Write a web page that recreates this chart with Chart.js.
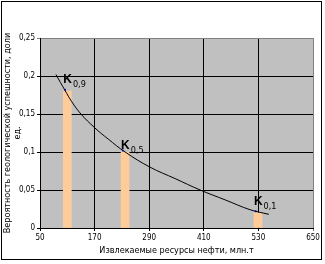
<!DOCTYPE html>
<html>
<head>
<meta charset="utf-8">
<script src="https://cdn.jsdelivr.net/npm/chart.js@4.4.1/dist/chart.umd.min.js"></script>
<style>
  html, body { margin: 0; padding: 0; background: #fff; }
  #wrap { width: 325px; height: 264px; }
</style>
</head>
<body>
<div id="wrap"><canvas id="chart" width="325" height="264"></canvas></div>
<script>
// категории (столбики) и их значения
const barX = [110, 237, 529];
const barY = [0.18, 0.10, 0.02];
const barLabels = ['0,9', '0,5', '0,1'];

// кривая
const curveX = [85, 105, 120, 140, 170, 200, 237, 292, 347, 402, 457, 512, 553];
const curveY = [0.202, 0.181, 0.166, 0.150, 0.132, 0.117, 0.100, 0.080, 0.065, 0.050, 0.037, 0.024, 0.018];

const xTicks = [50, 170, 290, 410, 530, 650];
const yTicks = [0, 0.05, 0.1, 0.15, 0.2, 0.25];

const FONT = "'Liberation Sans Narrow', 'Arial Narrow', 'DejaVu Sans Condensed', sans-serif";

const fmt = v => String(Math.round(v * 100) / 100).replace('.', ',');

// фон области построения и рамка вокруг
const frame = {
  id: 'frame',
  beforeDraw(chart) {
    const { ctx, chartArea: a } = chart;
    ctx.save();
    ctx.fillStyle = '#fff';
    ctx.fillRect(0, 0, chart.width, chart.height);
    ctx.fillStyle = '#c0c0c0';
    ctx.fillRect(a.left, a.top, a.right - a.left, a.bottom - a.top);
    ctx.strokeStyle = '#000';
    ctx.lineWidth = 1;
    ctx.strokeRect(1.5, 1.5, 320, 258);
    ctx.restore();
  }
};

// подписи K с индексами над столбиками
const kLabels = {
  id: 'kLabels',
  afterDraw(chart) {
    const { ctx, scales } = chart;
    const dy = [8, 3, 8];
    ctx.save();
    ctx.fillStyle = '#000';
    ctx.textBaseline = 'alphabetic';
    barX.forEach((x, i) => {
      const px = scales.x.getPixelForValue(x) - 4;
      const py = scales.y.getPixelForValue(barY[i]) - dy[i];
      ctx.font = "bold 12px 'Liberation Sans Narrow', 'Arial Narrow', sans-serif";
      ctx.fillText('K', px, py);
      const w = ctx.measureText('K').width;
      ctx.font = "9px " + FONT;
      ctx.fillText(barLabels[i], px + w + 1, py + 4);
    });
    ctx.restore();
  }
};

const ctx = document.getElementById('chart');
new Chart(ctx, {
  type: 'bar',
  data: {
    datasets: [
      {
        type: 'line',
        data: curveX.map((x, i) => ({ x, y: curveY[i] })),
        borderColor: '#000',
        borderWidth: 1,
        pointRadius: 0,
        tension: 0.4,
        fill: false,
        order: 1
      },
      {
        type: 'line',
        data: barX.map((x, i) => ({ x: x - 5, y: barY[i] + 0.002 })),
        showLine: false,
        pointRadius: 1,
        pointBackgroundColor: '#000080',
        pointBorderWidth: 0,
        order: 0
      },
      {
        type: 'bar',
        data: barX.map((x, i) => ({ x, y: barY[i] })),
        backgroundColor: '#ffcc99',
        borderWidth: 0,
        barThickness: 8,
        order: 2
      }
    ]
  },
  options: {
    responsive: false,
    animation: false,
    events: [],
    layout: { padding: { left: 3, top: 38, right: 12, bottom: 8 } },
    plugins: { legend: { display: false }, tooltip: { enabled: false } },
    scales: {
      x: {
        type: 'linear',
        offset: false,
        min: 50,
        max: 650,
        afterBuildTicks: s => { s.ticks = xTicks.map(v => ({ value: v })); },
        afterFit: s => { s.height = 28; },
        grid: {
          offset: false,
          color: c => (c.tick && c.tick.value === 650 ? '#808080' : '#000'),
          lineWidth: 1,
          tickLength: 3,
          drawTicks: true
        },
        border: { color: '#000' },
        ticks: {
          color: '#000',
          padding: 2,
          maxRotation: 0,
          font: { family: FONT, size: 8 },
          callback: v => String(v)
        },
        title: {
          display: true,
          text: 'Извлекаемые ресурсы нефти, млн.т',
          color: '#000',
          font: { family: FONT, size: 9 },
          padding: { top: 3, bottom: 0 }
        }
      },
      y: {
        min: 0,
        max: 0.25,
        afterBuildTicks: s => { s.ticks = yTicks.map(v => ({ value: v })); },
        afterFit: s => { s.width = 37; },
        grid: {
          color: c => (c.tick && c.tick.value === 0.25 ? '#808080' : '#000'),
          lineWidth: 1,
          tickLength: 3
        },
        border: { color: '#000' },
        ticks: {
          color: '#000',
          padding: 2,
          font: { family: FONT, size: 8 },
          callback: v => fmt(v)
        },
        title: {
          display: true,
          text: ['Вероятность геологической успешности, доли', 'ед.'],
          color: '#000',
          font: { family: FONT, size: 9, lineHeight: 1.1 },
          padding: { top: 0, bottom: 2 }
        }
      }
    }
  },
  plugins: [frame, kLabels]
});
</script>
</body>
</html>
